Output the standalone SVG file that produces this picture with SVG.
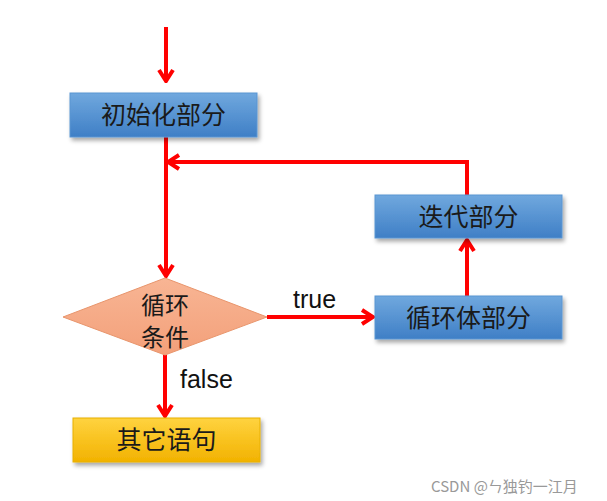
<svg xmlns="http://www.w3.org/2000/svg" width="607" height="501" viewBox="0 0 607 501">
<style>
.cjk{font-family:"Noto Sans CJK SC","Noto Sans CJK JP",sans-serif;fill:#1a1a1a;text-anchor:middle}
.lbl{font-family:"Liberation Sans",Arial,sans-serif;font-size:25px;fill:#111}
.edge{fill:none;stroke:#ff0000;stroke-width:4}
</style>
<defs>
<linearGradient id="blue" x1="0" y1="0" x2="0" y2="1">
<stop offset="0" stop-color="#70a8de"/>
<stop offset="1" stop-color="#3f7fc6"/>
</linearGradient>
<linearGradient id="gold" x1="0" y1="0" x2="0" y2="1">
<stop offset="0" stop-color="#ffd340"/>
<stop offset="1" stop-color="#f2b200"/>
</linearGradient>
<linearGradient id="pink" x1="0" y1="0" x2="0" y2="1">
<stop offset="0" stop-color="#f8b594"/>
<stop offset="1" stop-color="#f3a07a"/>
</linearGradient>
<filter id="sh" x="-10%" y="-20%" width="125%" height="150%">
<feDropShadow dx="2" dy="3" stdDeviation="2" flood-color="#000" flood-opacity="0.35"/>
</filter>
<marker id="arr" markerUnits="userSpaceOnUse" viewBox="-14 -9 16 18" markerWidth="16" markerHeight="18" refX="0" refY="0" orient="auto">
<path d="M-11,-7 L0,0 L-11,7" fill="none" stroke="#ff0000" stroke-width="4" stroke-linejoin="miter"/>
</marker>
</defs>
<g id="connectors">
<path class="edge" d="M166,27 V81" marker-end="url(#arr)"/>
<path class="edge" d="M166,137 V276" marker-end="url(#arr)"/>
<path class="edge" d="M467,195 V162 H168" marker-end="url(#arr)"/>
<path class="edge" d="M267,317 H373" marker-end="url(#arr)"/>
<path class="edge" d="M467,296 V240" marker-end="url(#arr)"/>
<path class="edge" d="M165,355 V416" marker-end="url(#arr)"/>
<text class="lbl" x="293" y="308">true</text>
<text class="lbl" x="180" y="388">false</text>
</g>
<g id="init">
<rect x="70" y="93" width="187" height="44" fill="url(#blue)" stroke="#5a95d2" stroke-width="1" filter="url(#sh)"/>
<text class="cjk" x="163.5" y="124" font-size="25">初始化部分</text>
</g>
<g id="cond">
<polygon points="165,278 267,317 165,355 63,317" fill="url(#pink)" stroke="#e8956c" stroke-width="1"/>
<text class="cjk" x="165" y="314" font-size="24">循环</text>
<text class="cjk" x="165" y="346" font-size="24">条件</text>
</g>
<g id="body">
<rect x="375" y="296" width="187" height="43" fill="url(#blue)" stroke="#5a95d2" stroke-width="1" filter="url(#sh)"/>
<text class="cjk" x="468.5" y="327" font-size="25">循环体部分</text>
</g>
<g id="iter">
<rect x="375" y="195" width="187" height="43" fill="url(#blue)" stroke="#5a95d2" stroke-width="1" filter="url(#sh)"/>
<text class="cjk" x="468.5" y="226" font-size="25">迭代部分</text>
</g>
<g id="other">
<rect x="73" y="418" width="187" height="44" fill="url(#gold)" stroke="#e8b000" stroke-width="1" filter="url(#sh)"/>
<text class="cjk" x="166.5" y="449" font-size="25">其它语句</text>
</g>
<text x="431" y="492" font-family="Noto Sans CJK SC, sans-serif" font-size="15" fill="#999">CSDN @ㄣ独钓一江月</text>
</svg>
